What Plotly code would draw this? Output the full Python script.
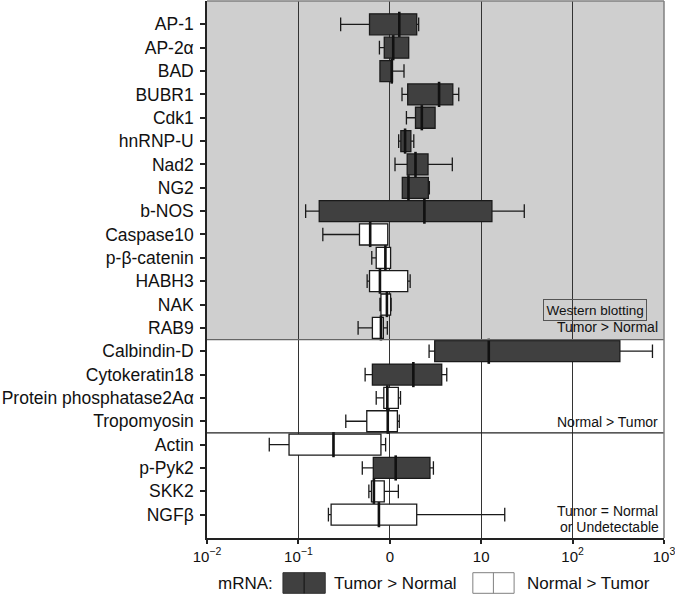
import plotly.graph_objects as go

categories = ["AP-1", "AP-2α", "BAD", "BUBR1", "Cdk1", "hnRNP-U", "Nad2", "NG2", "b-NOS",
              "Caspase10", "p-β-catenin", "HABH3", "NAK", "RAB9",
              "Calbindin-D", "Cytokeratin18", "Protein phosphatase2Aα", "Tropomyosin",
              "Actin", "p-Pyk2", "SKK2", "NGFβ"]

# mRNA Tumor > Normal (dark boxes)
up_genes = ["AP-1", "AP-2α", "BAD", "BUBR1", "Cdk1", "hnRNP-U", "Nad2", "NG2", "b-NOS",
            "Calbindin-D", "Cytokeratin18", "p-Pyk2"]
up_low = [0.29, 0.77, 0.78, 1.36, 1.52, 1.25, 1.14, 1.37, 0.12, 2.69, 0.537, 0.50]
up_q1 = [0.60, 0.87, 0.78, 1.57, 1.91, 1.32, 1.55, 1.37, 0.169, 3.10, 0.645, 0.66]
up_med = [1.27, 1.09, 1.05, 3.46, 2.24, 1.47, 1.91, 1.60, 2.39, 12.1, 1.81, 1.16]
up_q3 = [1.97, 1.61, 1.07, 4.89, 3.13, 1.70, 2.62, 2.64, 13.1, 329, 3.70, 2.75]
up_high = [2.07, 1.61, 1.43, 5.68, 3.13, 1.83, 4.83, 2.71, 29.6, 748, 4.20, 3.00]

# mRNA Normal > Tumor (white boxes)
down_genes = ["Caspase10", "p-β-catenin", "HABH3", "NAK", "RAB9", "Protein phosphatase2Aα",
              "Tropomyosin", "Actin", "SKK2", "NGFβ"]
down_low = [0.185, 0.635, 0.565, 0.78, 0.45, 0.71, 0.33, 0.048, 0.59, 0.213]
down_q1 = [0.466, 0.71, 0.60, 0.80, 0.645, 0.86, 0.56, 0.079, 0.63, 0.228]
down_med = [0.61, 0.895, 0.78, 0.93, 0.80, 0.94, 0.95, 0.242, 0.67, 0.76]
down_q3 = [0.95, 1.02, 1.57, 1.02, 0.85, 1.24, 1.21, 0.80, 0.87, 1.97]
down_high = [0.95, 1.02, 1.67, 1.035, 0.94, 1.31, 1.27, 0.90, 1.24, 18.1]

tick_vals = [0.01, 0.1, 1, 10, 100, 1000]
tick_text = ["10<sup>−2</sup>", "10<sup>−1</sup>", "0", "10", "10<sup>2</sup>", "10<sup>3</sup>"]

FONT = "Liberation Sans, Arial, sans-serif"
fig = go.Figure()
fig.add_trace(go.Box(
    y=up_genes, q1=up_q1, median=up_med, q3=up_q3,
    lowerfence=up_low, upperfence=up_high, orientation="h",
    fillcolor="#404040", line=dict(color="#1a1a1a", width=1.3),
    width=0.9, whiskerwidth=0.65, boxpoints=False, showlegend=False, hoverinfo="skip",
))
fig.add_trace(go.Box(
    y=down_genes, q1=down_q1, median=down_med, q3=down_q3,
    lowerfence=down_low, upperfence=down_high, orientation="h",
    fillcolor="white", line=dict(color="#1a1a1a", width=1.3),
    width=0.9, whiskerwidth=0.65, boxpoints=False, showlegend=False, hoverinfo="skip",
))
# thicker median marks
fig.add_trace(go.Scatter(
    x=up_med + down_med, y=up_genes + down_genes, mode="markers",
    marker=dict(symbol="line-ns", size=18, line=dict(color="#111111", width=2.6)),
    showlegend=False, hoverinfo="skip",
))

shapes = [
    dict(type="rect", xref="paper", yref="y", x0=0, x1=1, y0=-1, y1=13.5,
         fillcolor="#cfcfcf", line=dict(width=0), layer="below"),
    dict(type="line", xref="paper", yref="y", x0=0, x1=1, y0=13.5, y1=13.5,
         line=dict(color="#666666", width=1.2), layer="above"),
    dict(type="line", xref="paper", yref="y", x0=0, x1=1, y0=17.5, y1=17.5,
         line=dict(color="#222222", width=1.2), layer="above"),
    dict(type="line", xref="paper", yref="paper", x0=0, x1=1, y0=1, y1=1,
         line=dict(color="#808080", width=1.5), layer="above"),
    dict(type="line", xref="paper", yref="paper", x0=1, x1=1, y0=0, y1=1,
         line=dict(color="#808080", width=1.5), layer="above"),
    # legend swatches
    dict(type="rect", xref="paper", yref="paper", x0=0.1662, x1=0.2587, y0=-0.1030, y1=-0.0646,
         fillcolor="#404040", line=dict(color="#303030", width=1)),
    dict(type="line", xref="paper", yref="paper", x0=0.2125, x1=0.2125, y0=-0.1030, y1=-0.0646,
         line=dict(color="#111111", width=1)),
    dict(type="rect", xref="paper", yref="paper", x0=0.5817, x1=0.6720, y0=-0.1030, y1=-0.0646,
         fillcolor="white", line=dict(color="#808080", width=1)),
    dict(type="line", xref="paper", yref="paper", x0=0.6267, x1=0.6267, y0=-0.1030, y1=-0.0646,
         line=dict(color="#808080", width=1)),
]

ann_font = dict(family=FONT, size=14, color="#111111")
annotations = [
    dict(text="Western blotting", xref="paper", yref="y", x=0.850, y=12.23,
         xanchor="center", yanchor="middle", showarrow=False,
         font=dict(family=FONT, size=13.5, color="#111111"),
         bordercolor="#555555", borderwidth=1, borderpad=2.5),
    dict(text="Tumor > Normal", xref="paper", yref="y", x=0.992, y=12.95,
         xanchor="right", yanchor="middle", showarrow=False, font=ann_font),
    dict(text="Normal > Tumor", xref="paper", yref="y", x=0.992, y=17.03,
         xanchor="right", yanchor="middle", showarrow=False, font=ann_font),
    dict(text="Tumor = Normal", xref="paper", yref="y", x=0.992, y=20.85,
         xanchor="right", yanchor="middle", showarrow=False, font=ann_font),
    dict(text="or Undetectable", xref="paper", yref="y", x=0.994, y=21.55,
         xanchor="right", yanchor="middle", showarrow=False, font=ann_font),
    dict(text="mRNA:", xref="paper", yref="paper", x=0.019, y=-0.0838,
         xanchor="left", yanchor="middle", showarrow=False,
         font=dict(family=FONT, size=17, color="#111111")),
    dict(text="Tumor > Normal", xref="paper", yref="paper", x=0.2735, y=-0.0838,
         xanchor="left", yanchor="middle", showarrow=False,
         font=dict(family=FONT, size=17, color="#111111")),
    dict(text="Normal > Tumor", xref="paper", yref="paper", x=0.6955, y=-0.0838,
         xanchor="left", yanchor="middle", showarrow=False,
         font=dict(family=FONT, size=17, color="#111111")),
]

fig.update_layout(
    width=675, height=595,
    margin=dict(l=207, r=11, t=1, b=57),
    paper_bgcolor="white", plot_bgcolor="white",
    boxmode="overlay",
    shapes=shapes, annotations=annotations,
    font=dict(family=FONT, color="#111111"),
    xaxis=dict(type="log", range=[-2, 3], tickvals=tick_vals, ticktext=tick_text,
               ticks="outside", ticklen=4, tickwidth=1.5, tickcolor="#222222",
               showline=True, linecolor="#222222", linewidth=1.5,
               showgrid=True, gridcolor="#333333", gridwidth=1.3,
               ticklabeloverflow="allow",
               tickfont=dict(family=FONT, size=15, color="#111111"), zeroline=False),
    yaxis=dict(type="category", categoryorder="array", categoryarray=categories,
               range=[22, -1], ticks="outside", ticklen=5, tickwidth=2, tickcolor="#222222",
               showline=True, linecolor="#222222", linewidth=1.5, showgrid=False,
               ticklabelstandoff=3,
               tickfont=dict(family=FONT, size=17.5, color="#111111"), zeroline=False),
)

fig.write_html("out.html", config={"displayModeBar": False},
               post_script="document.body.style.margin='0';document.body.style.overflow='hidden';")
